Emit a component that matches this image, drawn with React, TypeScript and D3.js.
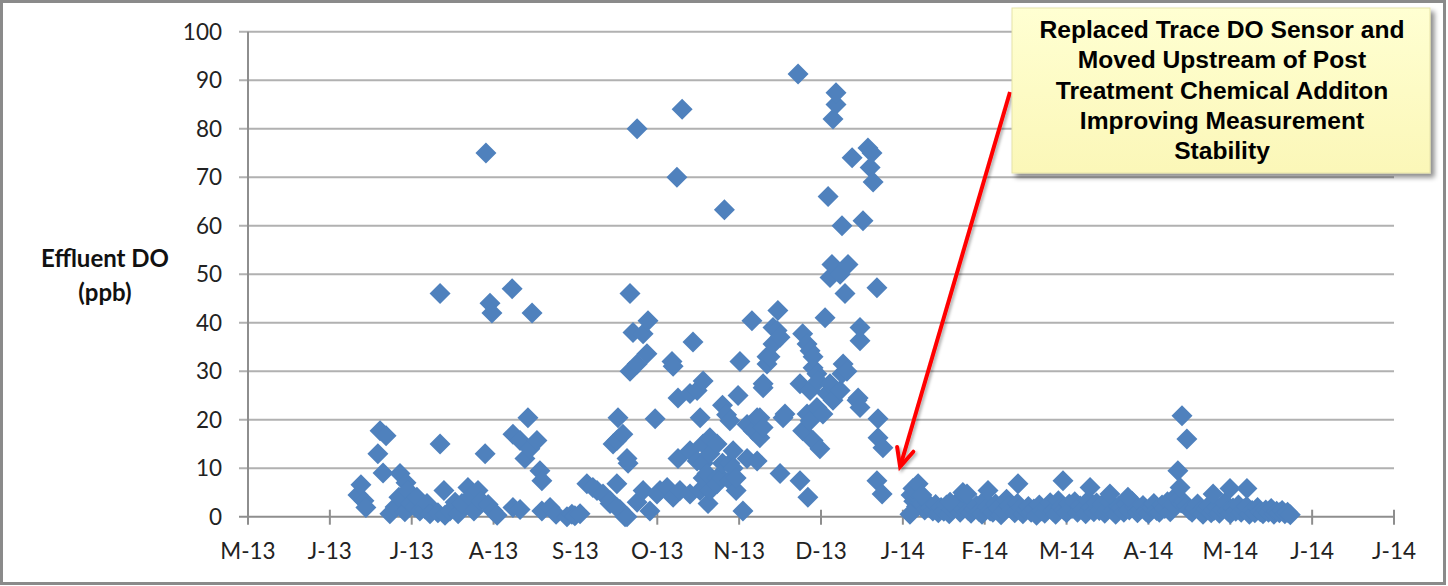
import React from "react";
import * as d3 from "d3";

// ---------- axis definitions ----------
const axisStart = new Date(2013, 4, 25);
const axisSpanDays = 420;
const tickStepDays = 30;
const tickLabels = ["M-13", "J-13", "J-13", "A-13", "S-13", "O-13", "N-13", "D-13", "J-14", "F-14", "M-14", "A-14", "M-14", "J-14", "J-14"];
const yTicks = [0, 10, 20, 30, 40, 50, 60, 70, 80, 90, 100];
const yTitle = ["Effluent DO", "(ppb)"];
const noteLines = [
  "Replaced Trace DO Sensor and",
  "Moved Upstream of Post",
  "Treatment Chemical Additon",
  "Improving Measurement",
  "Stability",
];

// ---------- data: [days since axis start, effluent DO ppb] ----------
const summer2013: [number, number][] = [
  [40.3, 4.5], [41.4, 6.6], [42.5, 3.3], [43.2, 1.9], [47.6, 13], [48.4, 17.7], [49.5, 9], [50.6, 16.7],
  [52, 0.6], [53.9, 2], [55.3, 4], [55.7, 8.9], [57.5, 1], [57.9, 7], [58.6, 5.4], [59.7, 2.7], [61.2, 2],
  [61.9, 4], [63, 1.2], [64.9, 1.6], [65.6, 2.7], [66.7, 0.6], [69.6, 0.8], [70.4, 15], [70.4, 46],
  [71.8, 5.4], [72.2, 0.3], [74, 1.2], [75.9, 3], [77, 0.6], [78.4, 2.7], [80.6, 6], [81.4, 4], [82.8, 1.2],
  [84.3, 5.4], [85.4, 3.3], [86.9, 13], [87.2, 75], [88, 2.5], [88.7, 44], [89.4, 42], [89.8, 1.2],
  [91.3, 0.3], [96.8, 47],
];

const lateSummer2013: [number, number][] = [
  [97.1, 1.9], [97.1, 17], [99.7, 15.7], [99.7, 1.5], [101.5, 12], [102.6, 20.4], [103.3, 14], [104.1, 42],
  [105.9, 15.7], [107, 9.5], [107.7, 7.4], [107.7, 1.2], [110.7, 1.9], [112.9, 0.5], [116.9, 0], [118.7, 0.5],
  [119.8, 0.2], [121.7, 0.6], [124.2, 6.8], [126.4, 6], [127.9, 5.4], [130.1, 4.7], [132.7, 2.7], [135.2, 6.8],
  [136.3, 1.5], [138.2, 0],
];

const autumn2013: [number, number][] = [
  [133.8, 15], [135.2, 15.7], [135.6, 20.4], [137.4, 17], [138.9, 12], [139.3, 11], [132.7, 3.3], [135.2, 1.9],
  [138.9, 0], [140, 46], [140, 30], [141.1, 38], [142.6, 80], [142.6, 31.5], [142.6, 3], [144.8, 37.7],
  [144.8, 5.4], [146.2, 33.6], [146.6, 40.4], [147.3, 1.2], [149.2, 20.2], [149.9, 4.7], [151, 5.4],
  [153.6, 6], [155.4, 32], [155.8, 31], [155.8, 4], [157.2, 70], [157.6, 24.5], [157.6, 12], [158.3, 5.4],
  [159.1, 84], [162, 25.4], [162, 13.6], [162, 4.7], [163.1, 36], [164.6, 26], [164.6, 11.5], [165.7, 20.4],
  [165.7, 5.4], [166.8, 28], [166.8, 15], [166.8, 11], [166.8, 8], [168.2, 8.9], [168.6, 2.7], [169.3, 16.3],
  [169.3, 13], [169.3, 5.4], [171.9, 15], [171.9, 8], [171.9, 6.8], [173.7, 8], [173.9, 23], [173.9, 11],
  [174.6, 63.3], [175.4, 21], [176.6, 19.8], [176.6, 11], [176.6, 7.4], [177.8, 13.6], [177.8, 10],
  [178.9, 5.4], [178.9, 8], [179.6, 25], [180.3, 32], [181.4, 1.2], [182.9, 19], [182.9, 12], [184.7, 40.4],
  [185.1, 17.7], [186.6, 20.4], [186.6, 11.5], [187.6, 16.3], [187.6, 20.4], [188.8, 26.6], [188.8, 18.4],
  [188.8, 27.4], [190.2, 33], [190.2, 31.5], [191.3, 33], [192.4, 35.6], [192.4, 39], [193.9, 38.4],
  [194.2, 42.5], [195, 37], [195, 8.9], [196.1, 20.4], [196.8, 21.2],
];

const winter2013: [number, number][] = [
  [201.6, 91.3], [202.3, 27.4], [202.3, 7.4], [203.3, 37.7], [203.3, 17.7], [204.9, 35.6], [204.9, 21.2],
  [205.2, 4], [206, 34.2], [206, 26], [206, 19.8], [207.1, 30.7], [207.1, 33], [207.1, 15.7], [208.5, 29.5],
  [208.5, 22.5], [208.9, 28], [209.6, 14], [210.7, 21.2], [211.5, 41], [212.2, 25.4], [212.6, 66],
  [213.3, 27.4], [213.3, 49.3], [214, 52], [214.4, 24], [214.4, 82], [215.5, 85], [215.5, 87.4], [217, 26],
  [217, 50], [217.7, 29.5], [217.7, 60], [218.1, 31.5], [218.8, 46], [219.5, 30], [219.9, 52], [221.4, 74],
  [223.2, 24], [223.6, 24.5], [224.3, 22.5], [224.3, 36.3], [224.3, 39], [225.4, 61], [227.2, 76], [228, 72],
  [228.7, 75], [229.1, 69], [230.5, 47.2], [230.5, 7.4], [230.9, 20.2], [230.9, 16.3], [232.4, 4.7],
  [232.7, 14.2],
];

const peaks2014: [number, number][] = [
  [242.6, 0.5], [243.7, 5.8], [245.6, 6.8], [247, 4.5], [257.3, 3], [262, 5], [263.5, 4.7], [271.2, 5.4],
  [282.2, 6.8], [298.7, 7.4], [308.6, 6], [315.9, 4.7], [322.5, 4], [340.8, 9.5], [341.6, 6], [342.3, 20.8],
  [344.1, 16], [353.7, 4.7], [359.9, 5.8], [366.1, 5.8],
];

// daily readings after the sensor replacement, starting at day 243
const daily2014Start = 243;
const daily2014: number[] = [
  4.5, 3.2, 2.1, 3.8, 2.6, 1.4, 2.9, 1.8, 1.2, 2.5,
  0.8, 1.9, 1.1, 2.4, 0.6, 1.5, 2.2, 3.1, 0.9, 1.7,
  2.8, 1.3, 0.7, 1.6, 2.3, 1.0, 0.5, 3.4, 2.0, 1.2,
  0.9, 2.6, 1.8, 0.4, 1.1, 3.6, 2.2, 1.5, 0.8, 2.7,
  1.9, 0.6, 1.4, 2.1, 0.9, 1.6, 0.3, 2.4, 1.2, 0.7,
  1.8, 2.9, 1.1, 0.5, 3.3, 2.0, 1.4, 0.8, 2.6, 1.7,
  3.1, 0.9, 2.2, 1.5, 0.6, 3.4, 1.9, 1.0, 2.8, 1.3,
  2.5, 0.7, 1.6, 3.0, 1.2, 0.5, 2.1, 1.8, 0.9, 2.6,
  1.4, 3.2, 2.0, 0.8, 1.5, 2.3, 1.1, 0.6, 1.9, 2.7,
  1.3, 0.9, 2.4, 1.7, 3.1, 1.0, 2.5, 4.2, 3.5, 2.8,
  3.0, 2.2, 1.4, 0.9, 1.8, 2.6, 1.1, 0.5, 1.6, 2.2,
  0.8, 1.3, 2.0, 0.7, 1.5, 2.9, 1.2, 0.6, 1.8, 1.1,
  2.4, 0.9, 1.6, 2.1, 0.5, 1.3, 0.8, 1.9, 1.0, 0.6,
  1.4, 0.9, 1.7, 0.5, 1.1, 0.8, 1.3, 0.6, 0.9, 0.4,
];

const diamondType = {
  draw(ctx: any, size: number) {
    const r = Math.sqrt(size / 2);
    ctx.moveTo(0, -r);
    ctx.lineTo(r, 0);
    ctx.lineTo(0, r);
    ctx.lineTo(-r, 0);
    ctx.closePath();
  },
};

export default function App() {
  const W = 1448;
  const H = 586;
  const left = 248;
  const right = 1394;
  const top = 31.7;
  const bottom = 516.7;
  const dayMs = 86400000;
  const dayToDate = (d: number) => new Date(axisStart.getTime() + d * dayMs);

  const x = d3.scaleTime().domain([axisStart, dayToDate(axisSpanDays)]).range([left, right]);
  const y = d3.scaleLinear().domain([0, 100]).range([bottom, top]);

  const dailyPairs: [number, number][] = daily2014.map((v, i) => [daily2014Start + i, v]);
  const allPoints: [number, number][] = [
    ...summer2013, ...lateSummer2013, ...autumn2013, ...winter2013, ...dailyPairs, ...peaks2014,
  ];

  const diamond = d3.symbol().type(diamondType as any).size(2 * 10.5 * 10.5)()!;
  const tickDates = tickLabels.map((_, i) => dayToDate(i * tickStepDays));

  const gridColor = "#b1b1b1";
  const axisColor = "#8e8e8e";
  const tickFont = "Lato, 'Open Sans', sans-serif";

  // arrow geometry (annotation pointer)
  const ax0 = 1010, ay0 = 92;
  const tipX = x(dayToDate(239)), tipY = y(10.3);
  const dx = tipX - ax0, dy = tipY - ay0;
  const len = Math.hypot(dx, dy);
  const bx = -dx / len, by = -dy / len;
  const wing = (deg: number) => {
    const a = (deg * Math.PI) / 180;
    return [tipX + 20 * (bx * Math.cos(a) - by * Math.sin(a)), tipY + 20 * (bx * Math.sin(a) + by * Math.cos(a))];
  };
  const w1 = wing(25), w2 = wing(-25);

  const boxX = 1012, boxY = 8, boxW = 418, boxH = 165;

  return (
    <svg width={W} height={H} style={{ position: "absolute", left: 0, top: 0, display: "block" }}>
      <defs>
        <filter id="shadow" x="-10%" y="-10%" width="130%" height="130%">
          <feDropShadow dx="4" dy="4" stdDeviation="2.5" floodColor="#000" floodOpacity="0.45" />
        </filter>
        <filter id="arrowShadow" x="-20%" y="-5%" width="140%" height="110%">
          <feDropShadow dx="2" dy="2" stdDeviation="1.5" floodColor="#000" floodOpacity="0.3" />
        </filter>
        <linearGradient id="noteFill" x1="0" y1="0" x2="0" y2="1">
          <stop offset="0" stopColor="#ffffd2" />
          <stop offset="1" stopColor="#fbf7b8" />
        </linearGradient>
      </defs>
      <rect x={0} y={0} width={W} height={H} fill="#fff" />
      <rect x={1.5} y={1.5} width={1443} height={582} fill="none" stroke="#8a8a8a" strokeWidth={3} />

      {/* horizontal gridlines and y ticks */}
      {yTicks.map((t) => (
        <line key={"g" + t} x1={left - 9} x2={right} y1={y(t)} y2={y(t)} stroke={t === 0 ? axisColor : gridColor} strokeWidth={2} />
      ))}
      <line x1={left} x2={left} y1={top} y2={bottom} stroke={axisColor} strokeWidth={2} />
      {tickDates.map((d, i) => (
        <line key={"xt" + i} x1={x(d)} x2={x(d)} y1={bottom - 7} y2={bottom + 8} stroke={axisColor} strokeWidth={2} />
      ))}

      {yTicks.map((t) => (
        <text key={"yl" + t} x={222} y={y(t)} dy="0.36em" textAnchor="end" fontFamily={tickFont} fontSize={22.5} fill="#222">
          {t}
        </text>
      ))}
      {tickDates.map((d, i) => (
        <text key={"xl" + i} x={x(d)} y={559} textAnchor="middle" fontFamily={tickFont} fontSize={22.5} fill="#222">
          {tickLabels[i]}
        </text>
      ))}

      <text x={105} y={267} textAnchor="middle" fontFamily={tickFont} fontWeight="bold" fontSize={24} fill="#111">
        {yTitle[0]}
      </text>
      <text x={105} y={301} textAnchor="middle" fontFamily={tickFont} fontWeight="bold" fontSize={24} fill="#111">
        {yTitle[1]}
      </text>

      {allPoints.map(([d, v], i) => (
        <path key={"p" + i} d={diamond} transform={`translate(${x(dayToDate(d))},${y(v)})`} fill="#4F81BD" />
      ))}

      {/* annotation arrow */}
      <g filter="url(#arrowShadow)">
        <line x1={ax0} y1={ay0} x2={tipX} y2={tipY} stroke="#ff0000" strokeWidth={4} />
        <polyline points={`${w1[0]},${w1[1]} ${tipX},${tipY} ${w2[0]},${w2[1]}`} fill="none" stroke="#ff0000" strokeWidth={4} strokeLinejoin="miter" strokeLinecap="round" />
      </g>

      {/* annotation box */}
      <rect x={boxX} y={boxY} width={boxW} height={boxH} fill="url(#noteFill)" stroke="#e6e3a8" strokeWidth={1} filter="url(#shadow)" />
      {noteLines.map((s, i) => (
        <text key={"n" + i} x={boxX + boxW / 2 + 1} y={38 + i * 30.3} textAnchor="middle" fontFamily="'Liberation Sans', Arial, sans-serif" fontWeight="bold" fontSize={24.6} fill="#000">
          {s}
        </text>
      ))}
    </svg>
  );
}
